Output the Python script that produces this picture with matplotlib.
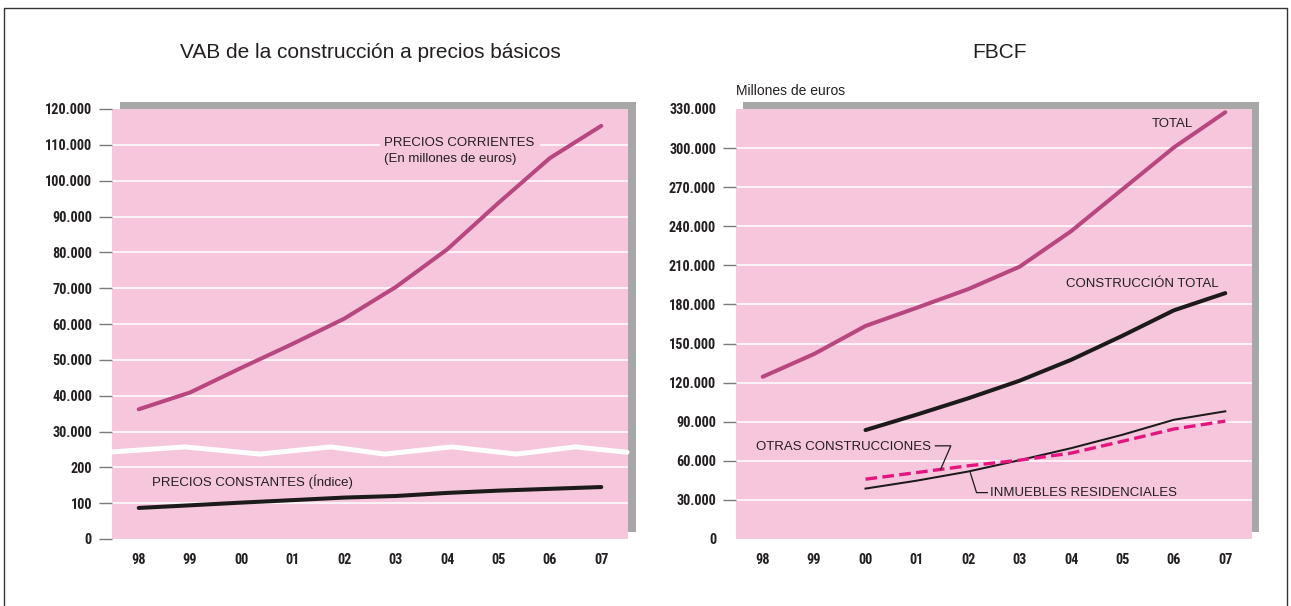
import matplotlib
matplotlib.use('Agg')
import numpy as np
import matplotlib.pyplot as plt
from matplotlib import font_manager as fm
from matplotlib.patches import Rectangle
from matplotlib.lines import Line2D

# ---------------- data ----------------
years = ['98', '99', '00', '01', '02', '03', '04', '05', '06', '07']

# Left chart: VAB de la construcción
vab_corrientes = [36200, 40900, 47800, 54500, 61500, 70300, 80800, 93800, 106300, 115300]   # millones de euros
vab_constantes = [86.7, 94.0, 101.6, 108.5, 115.6, 120.0, 128.6, 135.0, 140.0, 145.0]         # índice
left_ytick_vals = [0, 10000, 20000, 30000, 40000, 50000, 60000, 70000, 80000, 90000,
                   100000, 110000, 120000]
left_ytick_labels = ['0', '100', '200', '30.000', '40.000', '50.000', '60.000', '70.000',
                     '80.000', '90.000', '100.000', '110.000', '120.000']
break_x = [-0.52, 0.9, 2.35, 3.74, 4.79, 6.09, 7.35, 8.5, 9.5]
break_y = [24300, 25700, 23700, 25700, 23700, 25700, 23700, 25700, 24200]

# Right chart: FBCF (millones de euros)
fbcf_total = [124500, 142000, 163500, 177500, 191800, 209000, 236200, 268400, 300500, 327500]
sub_years_start = 2  # series below start in 2000
construccion_total = [83600, 95500, 108000, 121500, 137500, 156000, 175500, 188700]
inmuebles_residenciales = [38700, 44800, 51800, 60500, 69700, 80000, 91500, 98000]
otras_construcciones = [45900, 51000, 56200, 60500, 65900, 75000, 84400, 90500]
right_ytick_vals = list(range(0, 330001, 30000))
right_ytick_labels = ['0', '30.000', '60.000', '90.000', '120.000', '150.000', '180.000',
                      '210.000', '240.000', '270.000', '300.000', '330.000']

# ---------------- style ----------------
PINK = '#f6c6dc'
MAGENTA = '#b8467f'
HOT = '#e3157e'
BLACK = '#1c1a1b'
SHADOW = '#a7a7a7'

names = {f.name for f in fm.fontManager.ttflist}
_cands = [('Liberation Sans Narrow', 11.4), ('Arial Narrow', 11.4),
          ('Roboto Condensed', 10.3), ('PT Sans Narrow', 11.0), ('Archivo Narrow', 10.6)]
TICKFONT = dict(family='Liberation Sans', weight='bold', size=9.4, color='#231f20')
for _name, _size in _cands:
    if _name in names:
        TICKFONT = dict(family=_name, weight='bold', size=_size, color='#231f20')
        break
LABFONT = dict(family='Liberation Sans', size=9.5, color='#231f20')

W, H = 1291, 606
fig = plt.figure(figsize=(W / 100, H / 100), dpi=100)
fig.patch.set_facecolor('white')


def px_axes(x0, y0, x1, y1):
    return fig.add_axes([x0 / W, 1 - y1 / H, (x1 - x0) / W, (y1 - y0) / H])


def shadow(x0, y0, x1, y1):
    fig.add_artist(Rectangle((x0 / W, 1 - y1 / H), (x1 - x0) / W, (y1 - y0) / H,
                             transform=fig.transFigure, facecolor=SHADOW,
                             edgecolor='none', zorder=-5))


x = np.arange(len(years))


def setup(ax, ylim, yvals, ylabels):
    ax.set_facecolor(PINK)
    for s in ax.spines.values():
        s.set_visible(False)
    ax.set_xlim(-0.52, 9.52)
    ax.set_ylim(*ylim)
    ax.set_xticks(x)
    ax.set_xticklabels(years, **TICKFONT)
    ax.tick_params(axis='x', length=0, pad=10)
    ax.set_yticks(yvals)
    ax.set_yticklabels(ylabels, **TICKFONT)
    ax.tick_params(axis='y', length=9.4, width=1.0, color='#7a7a7a', pad=5)
    ticks = ax.yaxis.get_major_ticks()
    ticks[0].tick1line.set_visible(False)
    ticks[-1].tick1line.set_visible(False)
    for v in yvals[1:-1]:
        ax.axhline(v, color='white', lw=1.1, zorder=1)


# outer frame
fig.add_artist(Line2D([4 / W, 4 / W, 1287 / W, 1287 / W], [0, 1 - 8 / H, 1 - 8 / H, 0],
                      transform=fig.transFigure, color='#333333', lw=1.0))

# ---------------- left chart ----------------
shadow(120, 102, 636, 532)
axL = px_axes(112, 109, 628, 539)
setup(axL, (0, 120000), left_ytick_vals, left_ytick_labels)
axL.plot(break_x, break_y, color='white', lw=3.6, solid_capstyle='round',
         solid_joinstyle='round', zorder=2, clip_on=False)
axL.plot(x, vab_corrientes, color=MAGENTA, lw=2.9, solid_capstyle='round', zorder=4)
axL.text(4.78, 110500, 'PRECIOS CORRIENTES', va='center', ha='left', zorder=3,
         bbox=dict(facecolor=PINK, edgecolor='none', pad=3.5), **LABFONT)
axL.text(4.78, 106000, '(En millones de euros)', va='center', ha='left', zorder=3, **LABFONT)

axL2 = axL.twinx()
axL2.set_ylim(0, 1200)
axL2.set_axis_off()
axL2.plot(x, vab_constantes, color=BLACK, lw=2.9, solid_capstyle='round', zorder=4)
axL2.text(0.25, 159.4, 'PRECIOS CONSTANTES (Índice)', va='center', ha='left', **LABFONT)

fig.text(370 / W, 1 - 52 / H, 'VAB de la construcción a precios básicos',
         ha='center', va='center', family='Liberation Sans', size=15, color='#231f20')

# ---------------- right chart ----------------
shadow(743, 102, 1259, 532)
axR = px_axes(736, 109, 1252, 539)
setup(axR, (0, 330000), right_ytick_vals, right_ytick_labels)
xs = x[sub_years_start:]
axR.plot(x, fbcf_total, color=MAGENTA, lw=2.9, solid_capstyle='round', zorder=4)
axR.plot(xs, construccion_total, color=BLACK, lw=2.9, solid_capstyle='round', zorder=4)
axR.plot(xs, inmuebles_residenciales, color=BLACK, lw=1.45, zorder=4)
axR.plot(xs, otras_construcciones, color=HOT, lw=2.4, dashes=(3.5, 1.6), zorder=4)

axR.text(7.57, 318500, 'TOTAL', va='center', ha='left', **LABFONT)
axR.text(5.9, 195900, 'CONSTRUCCIÓN TOTAL', va='center', ha='left', **LABFONT)
axR.text(-0.13, 70800, 'OTRAS CONSTRUCCIONES', va='center', ha='left', **LABFONT)
axR.plot([3.36, 3.66, 3.46], [71500, 71500, 53300], color=BLACK, lw=0.9, zorder=5)
axR.text(4.43, 35600, 'INMUEBLES RESIDENCIALES', va='center', ha='left', **LABFONT)
axR.plot([4.37, 4.16, 4.04], [35600, 35600, 50800], color=BLACK, lw=0.9, zorder=5)

fig.text(1000 / W, 1 - 52 / H, 'FBCF', ha='center', va='center',
         family='Liberation Sans', size=15, color='#231f20')
fig.text(736 / W, 1 - 91 / H, 'Millones de euros', ha='left', va='center',
         family='Liberation Sans', size=10, color='#231f20')

fig.savefig('out.png', dpi=100)
